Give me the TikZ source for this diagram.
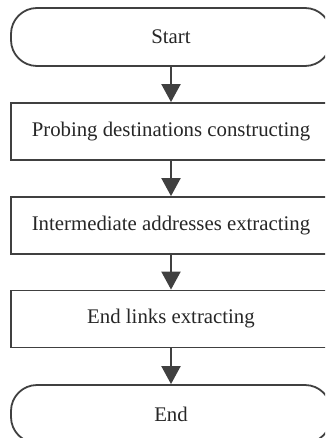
\documentclass[tikz,border=0pt]{standalone}
\usepackage{fontspec}
\setmainfont{Liberation Serif}
\usetikzlibrary{arrows.meta}
\definecolor{ln}{HTML}{404040}
\tikzset{
  base/.style={draw=ln, line width=1.8pt, minimum width=320pt, inner sep=0pt, text=black!85,
    font=\fontsize{20.8}{23}\selectfont, anchor=center},
  term/.style={base, rounded corners=26pt, minimum height=58pt},
  proc/.style={base, minimum height=57pt},
  flow/.style={draw=ln, line width=2pt, -{Triangle[length=18pt,width=19pt]}}
}
\begin{document}
\begin{tikzpicture}[x=1pt,y=-1pt]
\useasboundingbox (0,0) rectangle (325,438);
\clip (0,0) rectangle (325,438);
\node[term] (start) at (171,37) {Start};
\node[proc] (p1) at (171,131.5) {Probing destinations constructing};
\node[proc] (p2) at (171,225.5) {Intermediate addresses extracting};
\node[proc] (p3) at (171,319) {End links extracting};
\node[term] (end) at (171,414) {End};
\draw[flow] (start) -- (p1);
\draw[flow] (p1) -- (p2);
\draw[flow] (p2) -- (p3);
\draw[flow] (p3) -- (end);
\end{tikzpicture}
\end{document}
